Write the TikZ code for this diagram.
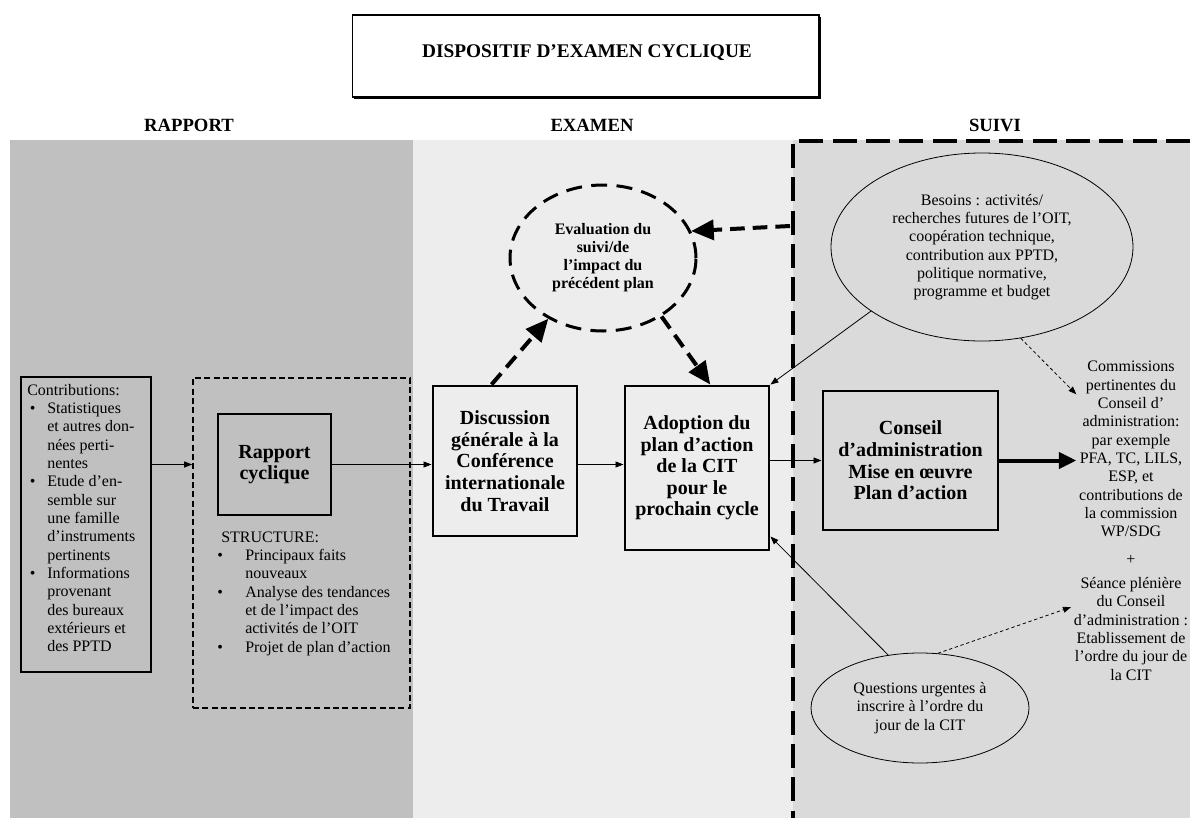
\documentclass[tikz,border=0pt]{standalone}
\usepackage{fontspec}
\setmainfont{Liberation Serif}
\usetikzlibrary{arrows.meta,shapes.geometric,shadows}
\definecolor{grisrapport}{RGB}{192,192,192}
\definecolor{grisexamen}{RGB}{237,237,237}
\definecolor{grissuivi}{RGB}{218,218,218}
\newcommand{\txt}{\fontsize{12}{13.75}\selectfont}
\newcommand{\gras}{\fontsize{15}{16.2}\selectfont\bfseries}

\begin{document}
\begin{tikzpicture}[x=0.75pt,y=-0.75pt,
  boite/.style={draw,line width=2.2pt,align=center,inner sep=0pt,font=\gras},
  fleche/.style={line width=0.6pt,-{Triangle[length=6pt,width=4.5pt]}},
  pointille/.style={fleche,dash pattern=on 2.5pt off 2pt},
  grosse/.style={line width=3pt,dash pattern=on 11pt off 6pt,-{Triangle[length=17pt,width=15pt]}},
  entete/.style={font=\fontsize{14}{16}\selectfont\bfseries},
  bulle/.style={ellipse,draw,line width=0.6pt,inner sep=0pt,align=center,font=\txt}]

\useasboundingbox (0,0) rectangle (1190,818);

\fill[grisrapport] (10,140) rectangle (413,818);
\fill[grisexamen] (413,140) rectangle (793,818);
\fill[grissuivi] (793,140) rectangle (1190,818);
\draw[line width=3pt,dash pattern=on 18pt off 7pt] (1190,141) -- (793,141) -- (793,818);

\node[draw,line width=1pt,fill=white,minimum width=350pt,minimum height=61.5pt,
  drop shadow={shadow xshift=1.5pt,shadow yshift=-1.5pt,fill=black,opacity=1}] (titre) at (585.5,56) {};
\node[font=\fontsize{14.5}{16}\selectfont\bfseries] (titretxt) at (587,53) {DISPOSITIF D’EXAMEN CYCLIQUE};

\node[entete] (hrapp) at (189,125) {RAPPORT};
\node[entete] (hexam) at (592,125) {EXAMEN};
\node[entete] (hsuivi) at (995,125) {SUIVI};

% rapport
\node[draw,line width=1.2pt,minimum width=97.5pt,minimum height=221.25pt,inner sep=0pt] (contrib) at (86,524.5) {};
\node[anchor=north west,inner sep=0pt,font=\txt] (contribtxt) at (27,382) {%
\begin{tabular}{@{\hspace{2pt}}p{13pt}@{}l@{}}
\multicolumn{2}{@{}l@{}}{Contributions:}\\
\textbullet & Statistiques\\
 & et autres don-\\
 & nées perti-\\
 & nentes\\
\textbullet & Etude d’en-\\
 & semble sur\\
 & une famille\\
 & d’instruments\\
 & pertinents\\
\textbullet & Informations\\
 & provenant\\
 & des bureaux\\
 & extérieurs et\\
 & des PPTD
\end{tabular}};

\node[draw,line width=1.2pt,dash pattern=on 4.5pt off 2.5pt,minimum width=162.75pt,minimum height=247.5pt] (struct) at (301.5,543) {};
\node[boite,minimum width=84.75pt,minimum height=75.75pt] (rapp) at (274.5,464.5) {Rapport\\cyclique};
\node[anchor=north west,inner sep=0pt,font=\txt] (structtxt) at (217,529) {%
\begin{tabular}{@{}p{21pt}@{}l@{}}
\multicolumn{2}{@{\hspace{3pt}}l@{}}{STRUCTURE:}\\
\textbullet & Principaux faits\\
 & nouveaux\\
\textbullet & Analyse des tendances\\
 & et de l’impact des\\
 & activités de l’OIT\\
\textbullet & Projet de plan d’action
\end{tabular}};

% examen
\node[boite,minimum width=108pt,minimum height=112.5pt] (disc) at (505,461) {Discussion\\générale à la\\Conférence\\internationale\\du Travail};
\node[boite,minimum width=108pt,minimum height=123pt] (adopt) at (697,468) {Adoption du\\plan d’action\\de la CIT\\pour le\\prochain cycle};
\node[ellipse,draw,line width=2.25pt,dash pattern=on 12pt off 7pt,minimum width=139.5pt,minimum height=109.5pt,
  inner sep=0pt,align=center,font=\fontsize{12}{13.5}\selectfont\bfseries] (eval) at (603,258) {Evaluation du\\suivi/de\\l’impact du\\précédent plan};

% suivi
\node[boite,minimum width=131.25pt,minimum height=104.25pt] (cons) at (910.5,460.5) {Conseil\\d’administration\\Mise en œuvre\\Plan d’action};
\node[bulle,minimum width=226.5pt,minimum height=141pt] (besoins) at (982,247) {Besoins : activités/\\recherches futures de l’OIT,\\coopération technique,\\contribution aux PPTD,\\politique normative,\\programme et budget};
\node[bulle,minimum width=163.5pt,minimum height=82.5pt] (quest) at (920,708) {Questions urgentes à\\inscrire à l’ordre du\\jour de la CIT};
\node[align=center,font=\txt,inner sep=2pt] (comm) at (1131,449) {Commissions\\pertinentes du\\Conseil d’\\administration:\\par exemple\\PFA, TC, LILS,\\ESP, et\\contributions de\\la commission\\WP/SDG};
\node[font=\txt,inner sep=2pt] (plus) at (1131,560) {+};
\node[align=center,font=\txt,inner sep=2pt] (seance) at (1131,629) {Séance plénière\\du Conseil\\d’administration :\\Etablissement de\\l’ordre du jour de\\la CIT};

\draw[fleche] (rapp -| contrib.east) -- (rapp -| struct.west);
\draw[fleche] (rapp.east) -- (rapp -| disc.west);
\draw[fleche] (rapp -| disc.east) -- (rapp -| adopt.west);
\draw[fleche] (adopt.east |- cons) -- (cons.west);
\draw[line width=3pt,-{Triangle[length=13pt,width=12pt]}] (cons.east) -- (cons -| comm.west);

\draw[grosse] (disc.100) -- (eval.228);
\draw[grosse] (eval.315) -- (adopt.81);
\coordinate (retour) at (790,226);
\draw[grosse] (retour) -- (eval.17);

\draw[fleche] (besoins.210) -- (adopt.north east);
\draw[pointille] (besoins.293) -- (comm.135);
\draw[fleche] (quest.121) -- (adopt.317);
\draw[pointille] (quest.72) -- (seance.160);

\end{tikzpicture}
\end{document}
